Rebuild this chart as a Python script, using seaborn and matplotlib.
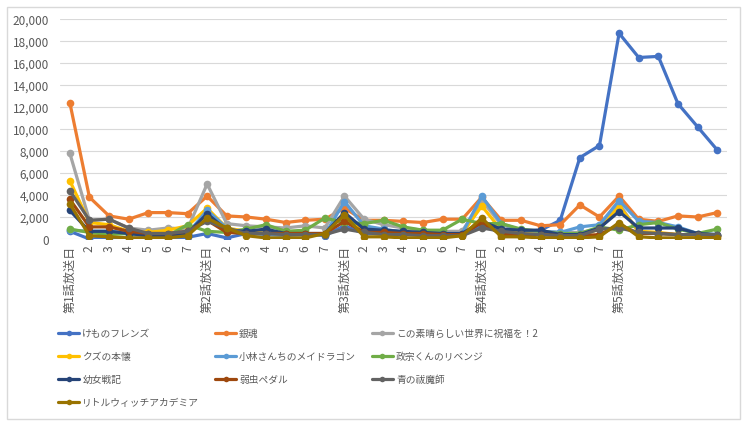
import matplotlib
matplotlib.use("Agg")
import matplotlib.pyplot as plt
from matplotlib.lines import Line2D
from matplotlib.patches import Rectangle
from matplotlib.ticker import FuncFormatter
import seaborn as sns
import pandas as pd

# x軸のラベル（各話放送日からの日数）
days = ["第1話放送日", "2", "3", "4", "5", "6", "7",
        "第2話放送日", "2", "3", "4", "5", "6", "7",
        "第3話放送日", "2", "3", "4", "5", "6", "7",
        "第4話放送日", "2", "3", "4", "5", "6", "7",
        "第5話放送日", "", "", "", "", ""]

titles = ["けものフレンズ", "銀魂", "この素晴らしい世界に祝福を！2", "クズの本懐",
          "小林さんちのメイドラゴン", "政宗くんのリベンジ", "幼女戦記", "弱虫ペダル",
          "青の祓魔師", "リトルウィッチアカデミア"]

kemono = [700, 0, 100, 100, 100, 100, 150, 500, 100, 500, 600, 500, 500, 300,
          1200, 500, 500, 500, 500, 400, 400, 1300, 700, 700, 800, 1700, 7400, 8500,
          18700, 16500, 16600, 12300, 10200, 8100]
gintama = [12400, 3800, 2100, 1800, 2400, 2400, 2300, 3900, 2100, 2000, 1800, 1500, 1700, 1800,
           2800, 1700, 1700, 1600, 1500, 1800, 1800, 3800, 1700, 1700, 1200, 1300, 3100, 2000,
           3900, 1800, 1600, 2100, 2000, 2400]
konosuba = [7800, 1700, 1800, 1000, 800, 1000, 900, 5000, 1400, 1200, 1100, 1000, 1200, 1000,
            3900, 1800, 1300, 1000, 800, 700, 700, 3500, 1300, 800, 700, 600, 600, 900,
            3200, 600, 500, 400, 400, 400]
kuzu = [5300, 1500, 1300, 700, 600, 800, 1200, 2800, 1000, 700, 500, 400, 400, 500,
        2300, 700, 500, 400, 400, 300, 500, 3000, 800, 700, 500, 300, 300, 900,
        3000, 700, 600, 400, 300, 300]
kobayashi = [800, 700, 700, 600, 300, 400, 500, 2600, 1000, 500, 400, 300, 400, 400,
             3400, 1200, 900, 600, 500, 400, 500, 3900, 1400, 800, 700, 600, 1100, 1300,
             3500, 1600, 1500, 1100, 500, 400]
masamune = [900, 600, 400, 500, 300, 300, 1300, 700, 600, 900, 1300, 700, 800, 1900,
            1500, 1400, 1700, 1100, 800, 800, 1800, 1400, 1400, 900, 700, 500, 500, 1100,
            800, 1300, 1500, 900, 500, 900]
youjo = [2600, 700, 700, 500, 300, 300, 500, 2300, 800, 700, 900, 500, 500, 500,
         2400, 900, 800, 700, 600, 500, 500, 1600, 900, 800, 800, 400, 400, 1000,
         2500, 1000, 1000, 1000, 500, 400]
yowapeda = [3600, 1100, 1100, 700, 500, 500, 700, 1700, 600, 500, 500, 500, 500, 500,
            1600, 600, 600, 500, 500, 400, 400, 1500, 400, 400, 400, 300, 300, 400,
            1300, 500, 500, 400, 400, 300]
ao = [4400, 1700, 1800, 1000, 500, 500, 700, 1600, 1000, 500, 500, 400, 400, 400,
      900, 600, 400, 400, 300, 300, 300, 1000, 700, 500, 400, 300, 300, 900,
      1000, 600, 500, 400, 400, 400]
lwa = [3200, 300, 200, 100, 100, 100, 300, 1900, 1000, 300, 100, 100, 100, 500,
       2200, 200, 200, 100, 100, 100, 300, 1900, 200, 200, 100, 100, 100, 200,
       1500, 200, 100, 100, 100, 100]

colors = ["#4472C4", "#ED7D31", "#A5A5A5", "#FFC000", "#5B9BD5",
          "#70AD47", "#264478", "#9E480E", "#636363", "#997300"]

series = [kemono, gintama, konosuba, kuzu, kobayashi, masamune, youjo, yowapeda, ao, lwa]
rows = []
for t, vals in zip(titles, series):
    for i, v in enumerate(vals):
        rows.append({"idx": i, "title": t, "count": v})
df = pd.DataFrame(rows)

sns.set_style("white")
plt.rcParams["font.family"] = ["Noto Sans CJK JP", "DejaVu Sans"]

fig = plt.figure(figsize=(7.49, 4.27), dpi=100)
ax = fig.add_axes([60 / 749, 1 - 240 / 427, 667 / 749, 220 / 427])

sns.lineplot(data=df, x="idx", y="count", hue="title", hue_order=titles,
             palette=colors, marker="o", markersize=5.5, markeredgewidth=0,
             linewidth=2.3, legend=False, ax=ax)

ax.set_xlim(-0.5, len(days) - 0.5)
ax.set_ylim(0, 20000)
ax.set_yticks(range(0, 20001, 2000))
ax.yaxis.set_major_formatter(FuncFormatter(lambda v, p: f"{int(v):,}"))
ax.set_xticks(range(len(days)))
ax.set_xticklabels(days, rotation=90, fontsize=8.7, color="#595959", va="top")
ax.tick_params(axis="y", labelsize=8.5, labelcolor="#595959", length=0, pad=8)
ax.tick_params(axis="x", length=0, pad=4)
ax.set_xlabel("")
ax.set_ylabel("")
ax.grid(axis="y", color="#D9D9D9", linewidth=0.8)
ax.set_axisbelow(True)
for s in ax.spines.values():
    s.set_visible(False)

# 凡例（Excelと同じ行順にするため列順に並べ替え）
handles = [Line2D([], [], color=c, linewidth=2.3, marker="o", markersize=4,
                  markeredgewidth=0) for c in colors]
order = [0, 3, 6, 9, 1, 4, 7, 2, 5, 8]
fig.legend([handles[i] for i in order], [titles[i] for i in order],
           loc="upper left", bbox_to_anchor=(58 / 749, 1 - 329 / 427), ncol=3,
           frameon=False, fontsize=7, labelcolor="#595959",
           handlelength=2.2, handletextpad=0.3, columnspacing=1.6,
           labelspacing=1.35, borderaxespad=0, borderpad=0)

fig.patches.append(Rectangle((7 / 749, 7 / 427), 733 / 749, 412 / 427,
                             transform=fig.transFigure, fill=False,
                             edgecolor="#D9D9D9", linewidth=1))

fig.savefig("out.png", dpi=100)
